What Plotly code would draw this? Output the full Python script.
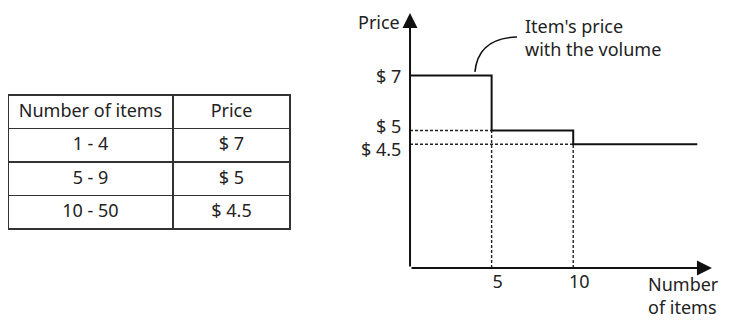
import plotly.graph_objects as go

# Table data
qty_ranges = ["1 - 4", "5 - 9", "10 - 50"]
price_labels = ["$ 7", "$ 5", "$ 4.5"]
table_header = ["Number of items", "Price"]

# Step chart data
prices = [7, 5, 4.5]
tier_start = [0, 5, 10]
chart_end = 17.6
x_ticks = [5, 10]
x_tick_text = ["5", "10"]

FONT = "Noto Sans"
INK = "#222222"
FS = 18
# page body has an 8px margin, so the figure is a bit smaller than the window
OFF = 8
W, H = 731 - OFF, 321 - OFF


def fx(px):
    return (px - OFF) / W


def fy(py):
    return 1 - (py - OFF) / H


# schematic axis frame (origin ~ (410, 268) px, 16.32 px per item, 27.5 px per $)
x_range = [-1, 19]
y_range = [-1, 9.4]
x_dom = [fx(393.7), fx(720.1)]
y_dom = [fy(295.5), fy(9.5)]

fig = go.Figure()

# table on the left
fig.add_trace(go.Table(
    domain=dict(x=[0, fx(290)], y=[0, fy(95)]),
    columnwidth=[165, 117],
    header=dict(values=table_header, height=33.5, align="center",
                fill_color="white", line=dict(color="#333333", width=1.5),
                font=dict(family=FONT, size=FS, color=INK)),
    cells=dict(values=[qty_ranges, price_labels], height=33.5, align="center",
               fill_color="white", line=dict(color="#333333", width=1.5),
               font=dict(family=FONT, size=FS, color=INK)),
))

# dotted guide lines
dot = dict(color="#222222", width=1.4, dash="3px,2px")
for i in range(1, len(prices)):
    fig.add_trace(go.Scatter(x=[tier_start[i], tier_start[i]], y=[0, prices[i]],
                             mode="lines", line=dot, hoverinfo="skip"))
    fig.add_trace(go.Scatter(x=[0, tier_start[i]], y=[prices[i], prices[i]],
                             mode="lines", line=dot, hoverinfo="skip"))

# price step line
fig.add_trace(go.Scatter(x=tier_start + [chart_end], y=prices + [prices[-1]],
                         mode="lines", line=dict(color="#111111", width=2, shape="hv"),
                         hoverinfo="skip"))

# axis arrows
for hx, hy in [(18.5, 0), (0, 9.27)]:
    fig.add_annotation(x=hx, y=hy, ax=0, ay=0, xref="x", yref="y", axref="x", ayref="y",
                       text="", showarrow=True, arrowhead=2, arrowsize=1.5,
                       arrowwidth=2, arrowcolor="#111111")

# price labels left of the axis; the two close ones are nudged apart like the drawing
label_nudge = {5: 5, 4.5: -5}
for p, lbl in zip(prices, price_labels):
    fig.add_annotation(x=0, y=p, xref="x", yref="y", xanchor="right", yanchor="middle",
                       xshift=-7, yshift=label_nudge.get(p, 0), showarrow=False, text=lbl,
                       font=dict(family=FONT, size=FS, color=INK))

# callout curve + text
fig.add_shape(type="path", xref="x", yref="y",
              path="M 3.98,7.13 Q 4.17,8.36 6.56,8.4",
              line=dict(color="#111111", width=1.6))
fig.add_annotation(x=6.92, y=8.38, xref="x", yref="y", xanchor="left", yanchor="middle",
                   align="left", showarrow=False, text="Item's price<br>with the volume",
                   font=dict(family=FONT, size=FS, color=INK))

# axis titles
fig.add_annotation(x=fx(402), y=1, xref="paper", yref="paper", xanchor="right", yanchor="top",
                   showarrow=False, text="Price", font=dict(family=FONT, size=FS, color=INK))
fig.add_annotation(x=1, y=0, xref="paper", yref="paper", xanchor="right",
                   yanchor="bottom", align="left", showarrow=False, text="Number<br>of items",
                   xshift=-10, font=dict(family=FONT, size=FS, color=INK))

fig.update_xaxes(domain=x_dom, range=x_range, anchor="free", position=fy(268),
                 tickvals=x_ticks, ticktext=x_tick_text, ticks="", showgrid=False,
                 zeroline=False, showline=False, automargin=False, ticklabelstandoff=1,
                 ticklabelshift=6, tickfont=dict(family=FONT, size=FS, color=INK))
fig.update_yaxes(domain=y_dom, range=y_range, anchor="free", position=fx(410),
                 showticklabels=False, ticks="", showgrid=False,
                 zeroline=False, showline=False, automargin=False)

fig.update_layout(template="none", width=W, height=H, margin=dict(l=0, r=0, t=0, b=0),
                  paper_bgcolor="white", plot_bgcolor="white", showlegend=False,
                  font=dict(family=FONT, size=FS, color=INK))

fig.write_html("out.html")
